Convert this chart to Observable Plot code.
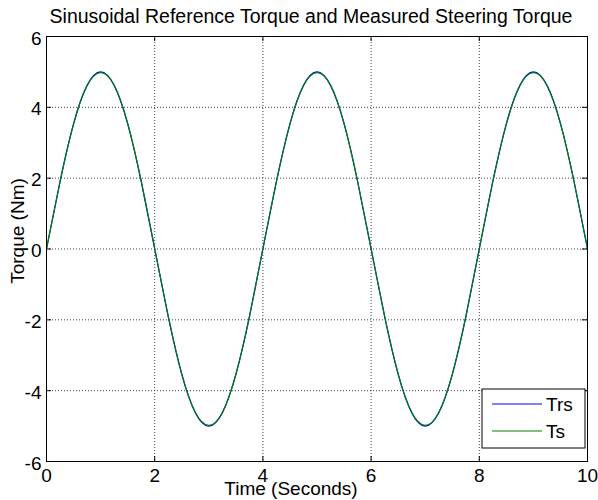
<!DOCTYPE html>
<html>
<head>
<meta charset="utf-8">
<script src="https://cdn.jsdelivr.net/npm/d3@7"></script>
<script src="https://cdn.jsdelivr.net/npm/@observablehq/plot@0.6"></script>
<style>
  html, body { margin: 0; padding: 0; background: #fff; }
  #chart svg { display: block; }
</style>
</head>
<body>
<div id="chart"></div>
<script>
// Time samples (s)
const time = [0, 0.25, 0.5, 0.75, 1, 1.25, 1.5, 1.75, 2, 2.25, 2.5, 2.75, 3, 3.25, 3.5, 3.75,
  4, 4.25, 4.5, 4.75, 5, 5.25, 5.5, 5.75, 6, 6.25, 6.5, 6.75, 7, 7.25, 7.5, 7.75,
  8, 8.25, 8.5, 8.75, 9, 9.25, 9.5, 9.75, 10];

// Reference torque Trs (Nm)
const trs = [0, 1.91, 3.54, 4.62, 5.00, 4.62, 3.54, 1.91, 0, -1.91, -3.54, -4.62, -5.00, -4.62, -3.54, -1.91,
  0, 1.91, 3.54, 4.62, 5.00, 4.62, 3.54, 1.91, 0, -1.91, -3.54, -4.62, -5.00, -4.62, -3.54, -1.91,
  0, 1.91, 3.54, 4.62, 5.00, 4.62, 3.54, 1.91, 0];

// Measured steering torque Ts (Nm)
const ts = [0.01, 1.89, 3.52, 4.61, 4.98, 4.63, 3.55, 1.93, 0.02, -1.89, -3.52, -4.61, -4.98, -4.63, -3.55, -1.93,
  0.01, 1.90, 3.52, 4.61, 4.98, 4.63, 3.55, 1.92, 0.02, -1.89, -3.52, -4.61, -4.98, -4.63, -3.55, -1.93,
  0.01, 1.90, 3.52, 4.61, 4.98, 4.63, 3.55, 1.92, 0.01];

const xTicks = [0, 2, 4, 6, 8, 10];
const yTicks = [-6, -4, -2, 0, 2, 4, 6];
const seriesNames = ["Trs", "Ts"];
const seriesColors = ["#0000ff", "#008000"];

const titleText = "Sinusoidal Reference Torque and Measured Steering Torque";
const xLabel = "Time (Seconds)";
const yLabel = "Torque (Nm)";

const rowsTrs = time.map((t, i) => ({t, v: trs[i]}));
const rowsTs = time.map((t, i) => ({t, v: ts[i]}));

const W = 598, H = 500;
const mL = 46, mR = 11, mT = 36, mB = 39;
const fw = W - mL - mR, fh = H - mT - mB;
const tick = 5;
const font = "'Liberation Sans', Arial, sans-serif";

const plot = Plot.plot({
  width: W,
  height: H,
  marginLeft: mL,
  marginRight: mR,
  marginTop: mT,
  marginBottom: mB,
  style: {fontFamily: font, fontSize: "19px", color: "#000", background: "#fff"},
  x: {domain: [0, 10]},
  y: {domain: [-6, 6]},
  marks: [
    Plot.gridX(xTicks, {stroke: "#000", strokeOpacity: 0.75, strokeDasharray: "1,2"}),
    Plot.gridY(yTicks, {stroke: "#000", strokeOpacity: 0.75, strokeDasharray: "1,2"}),
    // inward ticks on all four sides
    Plot.tickX(xTicks, {x: d => d, insetTop: fh - tick, stroke: "#000"}),
    Plot.tickX(xTicks, {x: d => d, insetBottom: fh - tick, stroke: "#000"}),
    Plot.tickY(yTicks, {y: d => d, insetRight: fw - tick, stroke: "#000"}),
    Plot.tickY(yTicks, {y: d => d, insetLeft: fw - tick, stroke: "#000"}),
    Plot.axisX(xTicks, {tickSize: 0, tickPadding: 7, label: null, fontSize: 19, tickFormat: d => String(d)}),
    Plot.axisY(yTicks, {tickSize: 0, tickPadding: 5, label: null, fontSize: 19, dy: 2, tickFormat: d => String(d)}),
    Plot.line(rowsTrs, {x: "t", y: "v", stroke: seriesColors[0], strokeWidth: 1.2, curve: "natural"}),
    Plot.line(rowsTs, {x: "t", y: "v", stroke: seriesColors[1], strokeWidth: 1.2, curve: "natural"}),
    Plot.frame({stroke: "#000", strokeWidth: 1})
  ]
});

const svg = d3.select(plot);

// title
svg.append("text")
  .attr("x", 311).attr("y", 23)
  .attr("text-anchor", "middle")
  .style("font-family", font).style("font-size", "19.5px")
  .text(titleText);

// x axis label
svg.append("text")
  .attr("x", 291).attr("y", 495)
  .attr("text-anchor", "middle")
  .style("font-family", font).style("font-size", "19px")
  .text(xLabel);

// y axis label
svg.append("text")
  .attr("transform", `translate(24,231) rotate(-90)`)
  .attr("text-anchor", "middle")
  .style("font-family", font).style("font-size", "19px")
  .text(yLabel);

// legend box
const lx = 482, ly = 389, lw = 103, lh = 59;
const lg = svg.append("g");
lg.append("rect")
  .attr("x", lx).attr("y", ly).attr("width", lw).attr("height", lh)
  .attr("fill", "#fff").attr("stroke", "#000").attr("stroke-width", 1);
seriesNames.forEach((name, i) => {
  const yy = ly + 15 + i * 27;
  lg.append("line")
    .attr("x1", lx + 10).attr("x2", lx + 60).attr("y1", yy).attr("y2", yy)
    .attr("stroke", seriesColors[i]).attr("stroke-width", 1.2);
  lg.append("text")
    .attr("x", lx + 64).attr("y", yy + 7)
    .attr("text-anchor", "start")
    .style("font-family", font).style("font-size", "19px")
    .text(name);
});

document.getElementById("chart").append(plot);
</script>
</body>
</html>
